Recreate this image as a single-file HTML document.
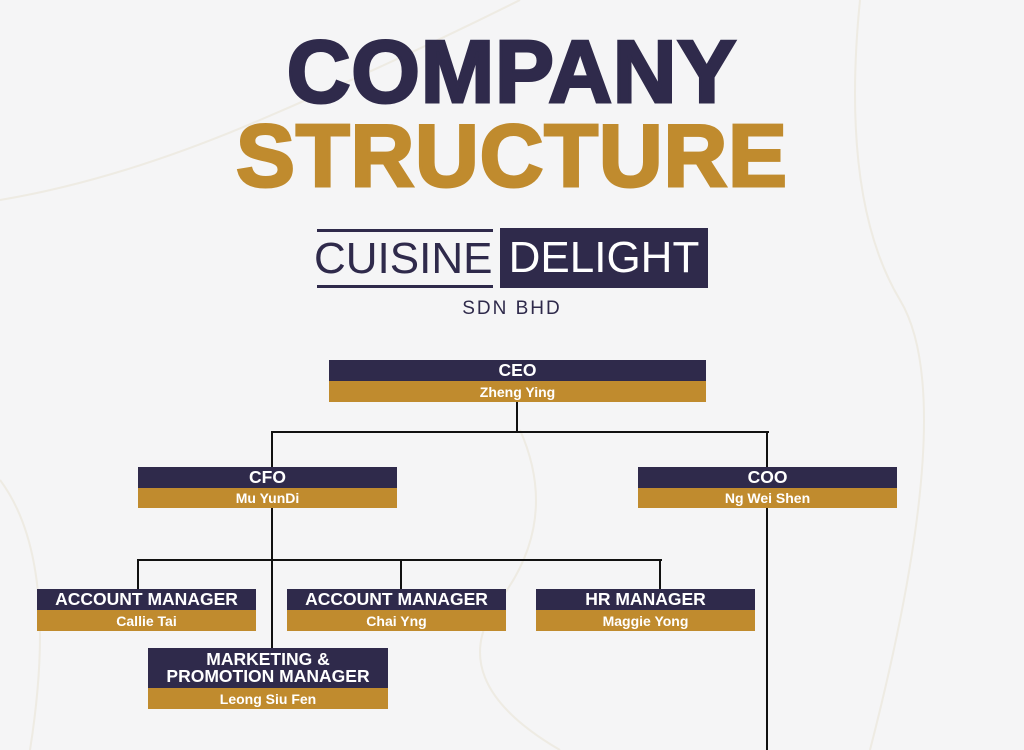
<!DOCTYPE html>
<html><head><meta charset="utf-8"><style>
body{margin:0;width:1024px;height:750px;overflow:hidden;background:#f5f5f6;font-family:"Liberation Sans",sans-serif;position:relative}
.a{position:absolute}
.t{position:absolute;left:0;width:1024px;text-align:center;font-weight:900;font-size:88px;line-height:1;letter-spacing:1px;-webkit-text-stroke:3px}
.box{position:absolute;color:#fff;font-weight:bold;text-align:center}
.d{background:#2f2a4b;font-size:17.5px;display:flex;align-items:center;justify-content:center;line-height:17px}
.g{background:#c08b2e;font-size:14px;display:flex;align-items:center;justify-content:center}
.l{position:absolute;background:#111}
</style></head><body>
<svg class="a" style="left:0;top:0" width="1024" height="750"><g stroke="#e8e2cf" stroke-width="2" fill="none" opacity=".5">
<path d="M0 200 Q120 180 260 120 T520 0"/><path d="M520 430 Q560 520 500 600 T560 750"/><path d="M860 0 Q840 200 900 300 T870 750"/><path d="M0 480 Q60 560 30 750"/></g></svg>
<div class="t" style="top:28px;color:#2f2a4b">COMPANY</div>
<div class="t" style="top:112px;color:#c08b2e">STRUCTURE</div>
<div class="a" style="left:317px;top:229px;width:176px;height:3px;background:#2f2a4b"></div>
<div class="a" style="left:317px;top:285px;width:176px;height:3px;background:#2f2a4b"></div>
<div class="a" style="left:314px;top:237px;font-size:44px;color:#2f2a4b;line-height:44px">CUISINE</div>
<div class="a" style="left:500px;top:228px;width:208px;height:60px;background:#2f2a4b;color:#fff;font-size:44px;line-height:60px;text-align:center">DELIGHT</div>
<div class="a" style="left:0;width:1024px;top:298px;text-align:center;font-size:19px;letter-spacing:2px;color:#2f2a4b">SDN BHD</div>

<div class="l" style="left:516px;top:402px;width:2px;height:30px"></div>
<div class="l" style="left:271px;top:431px;width:498px;height:2px"></div>
<div class="l" style="left:271px;top:431px;width:2px;height:36px"></div>
<div class="l" style="left:766px;top:431px;width:2px;height:36px"></div>
<div class="l" style="left:271px;top:508px;width:2px;height:140px"></div>
<div class="l" style="left:766px;top:508px;width:2px;height:242px"></div>
<div class="l" style="left:137px;top:559px;width:525px;height:2px"></div>
<div class="l" style="left:137px;top:559px;width:2px;height:30px"></div>
<div class="l" style="left:400px;top:559px;width:2px;height:30px"></div>
<div class="l" style="left:659px;top:559px;width:2px;height:30px"></div>

<div class="box" style="left:329px;top:360px;width:377px"><div class="d" style="height:21px">CEO</div><div class="g" style="height:21px">Zheng Ying</div></div>
<div class="box" style="left:138px;top:467px;width:259px"><div class="d" style="height:21px">CFO</div><div class="g" style="height:20px">Mu YunDi</div></div>
<div class="box" style="left:638px;top:467px;width:259px"><div class="d" style="height:21px">COO</div><div class="g" style="height:20px">Ng Wei Shen</div></div>
<div class="box" style="left:37px;top:589px;width:219px"><div class="d" style="height:21px">ACCOUNT MANAGER</div><div class="g" style="height:21px">Callie Tai</div></div>
<div class="box" style="left:287px;top:589px;width:219px"><div class="d" style="height:21px">ACCOUNT MANAGER</div><div class="g" style="height:21px">Chai Yng</div></div>
<div class="box" style="left:536px;top:589px;width:219px"><div class="d" style="height:21px">HR MANAGER</div><div class="g" style="height:21px">Maggie Yong</div></div>
<div class="box" style="left:148px;top:648px;width:240px"><div class="d" style="height:40px">MARKETING &amp;<br>PROMOTION MANAGER</div><div class="g" style="height:21px">Leong Siu Fen</div></div>
</body></html>
